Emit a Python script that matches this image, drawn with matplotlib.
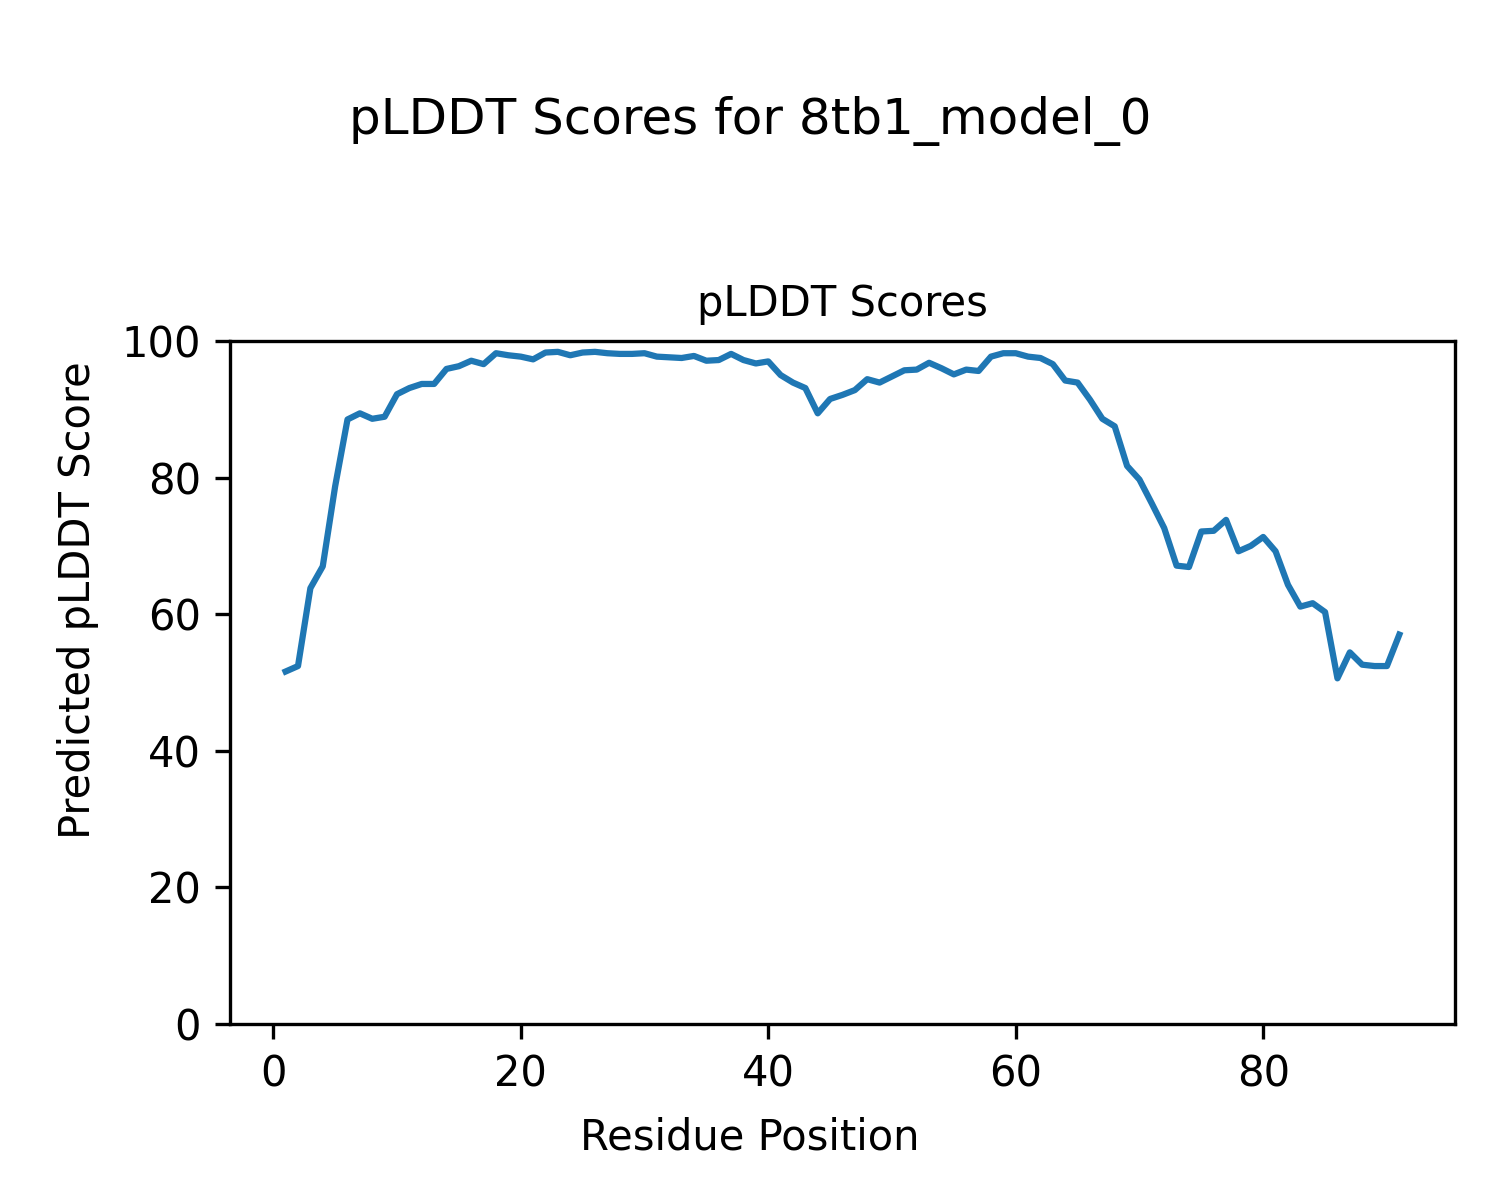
import matplotlib
matplotlib.use("Agg")
import matplotlib.pyplot as plt

residues = list(range(1, 92))
plddt = [51.6, 52.4, 63.8, 67.0, 78.7, 88.5, 89.4, 88.6, 88.9, 92.2,
         93.1, 93.7, 93.7, 95.9, 96.3, 97.1, 96.6, 98.2, 97.9, 97.7,
         97.3, 98.3, 98.4, 97.9, 98.3, 98.4, 98.2, 98.1, 98.1, 98.2,
         97.7, 97.6, 97.5, 97.8, 97.1, 97.2, 98.1, 97.2, 96.7, 97.0,
         95.0, 93.9, 93.1, 89.4, 91.5, 92.1, 92.8, 94.4, 93.9, 94.8,
         95.7, 95.8, 96.8, 96.0, 95.1, 95.8, 95.6, 97.7, 98.2, 98.2,
         97.7, 97.5, 96.6, 94.2, 93.9, 91.4, 88.6, 87.5, 81.7, 79.7,
         76.2, 72.6, 67.1, 66.9, 72.1, 72.2, 73.8, 69.2, 70.0, 71.3,
         69.2, 64.3, 61.1, 61.6, 60.3, 50.6, 54.4, 52.6, 52.4, 52.4,
         57.0]

fig = plt.figure(figsize=(5, 4), dpi=300)
ax = fig.add_axes([0.1533, 0.1467, 0.8167, 0.5692])
ax.plot(residues, plddt, color="#1f77b4", linewidth=1.5)
ax.set_ylim(0, 100)
ax.set_title("pLDDT Scores", fontsize=10)
fig.text(0.5, 0.0517, "Residue Position", fontsize=10, ha="center", va="center")
fig.text(0.052, 0.5, "Predicted pLDDT Score", fontsize=10, ha="center",
         va="center", rotation=90)
fig.suptitle("pLDDT Scores for 8tb1_model_0", fontsize=12, y=0.92, va="top")
fig.savefig("out.png", dpi=300)
